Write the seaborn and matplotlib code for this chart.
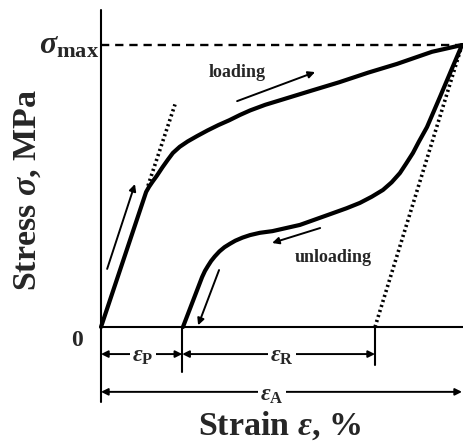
import numpy as np
import pandas as pd
import matplotlib
matplotlib.use("Agg")
import matplotlib.pyplot as plt
import seaborn as sns

# values (strain in arbitrary %, stress in % of sigma_max)
loading_strain = [0, 1.25, 1.33, 1.42, 1.55, 1.70, 1.85, 1.99, 2.18, 2.40, 2.66, 2.95,
                  3.25, 3.55, 3.85, 4.13, 4.55, 5.01, 5.80, 6.60, 7.40, 8.20, 9.17, 10.0]
loading_stress = [0, 47.9, 49.7, 51.4, 53.7, 56.6, 59.3, 61.7, 63.9, 65.8, 67.7, 69.7,
                  71.6, 73.3, 75.2, 76.8, 78.8, 80.6, 83.7, 86.8, 90.2, 93.3, 97.6, 100]

unloading_strain = [10.0, 9.70, 9.39, 9.03, 8.80, 8.64, 8.45, 8.28, 8.05, 7.81, 7.50,
                    7.17, 6.80, 6.43, 5.51, 4.75, 4.40, 4.13, 3.92, 3.72, 3.57, 3.42,
                    3.28, 3.15, 3.05, 2.96, 2.88, 2.80, 2.27]
unloading_stress = [100, 91.0, 81.6, 70.9, 65.6, 61.7, 57.9, 54.6, 51.3, 48.6, 46.2,
                    44.0, 42.1, 40.4, 36.2, 34.0, 33.4, 32.6, 31.7, 30.6, 29.5, 28.3,
                    26.8, 25.0, 23.4, 21.6, 19.9, 17.7, 0]

sigma_max = 100
eps_p = 2.25      # residual strain after unloading
eps_r = 7.59      # foot of the elastic unloading line
eps_a = 10.0      # total applied strain
elastic_slope = 38.5  # slope of the initial loading line

sns.set_style("white")
plt.rcParams["font.family"] = ["Liberation Serif", "DejaVu Serif"]
plt.rcParams["font.weight"] = "bold"
plt.rcParams["mathtext.fontset"] = "custom"
plt.rcParams["mathtext.rm"] = "Liberation Serif:weight=bold"
plt.rcParams["mathtext.bf"] = "Liberation Serif:weight=bold"
plt.rcParams["mathtext.it"] = "Liberation Serif:style=italic:weight=bold"

fig = plt.figure(figsize=(4.64, 4.44), dpi=100)
ax = fig.add_axes([0, 0, 1, 1])
ax.set_xlim(-2.798, 10.055)
ax.set_ylim(-41.49, 115.96)
ax.axis("off")

load_df = pd.DataFrame({"strain": loading_strain, "stress": loading_stress})
unload_df = pd.DataFrame({"strain": unloading_strain, "stress": unloading_stress})
sns.lineplot(data=load_df, x="strain", y="stress", sort=False, estimator=None,
             color="black", lw=3.0, ax=ax, solid_joinstyle="round", solid_capstyle="round")
sns.lineplot(data=unload_df, x="strain", y="stress", sort=False, estimator=None,
             color="black", lw=3.0, ax=ax, solid_joinstyle="round", solid_capstyle="round")

# dotted elastic lines
ax.plot([1.30, 2.05], [1.30 * elastic_slope, 2.05 * elastic_slope], color="black",
        lw=2.6, ls=(0, (0.6, 0.85)))
ax.plot([eps_r, eps_a], [0, sigma_max], color="black", lw=2.6, ls=(0, (0.6, 0.85)))

# sigma_max dashed line
ax.plot([0, 10.055], [sigma_max, sigma_max], color="black", lw=1.7, ls=(0, (3.5, 2.5)))

# axes
ax.plot([0, 0], [-26.6, 112.4], color="black", lw=1.5)
ax.plot([0, 10.055], [0, 0], color="black", lw=1.5)
ax.plot([eps_p, eps_p], [0, -16.0], color="black", lw=1.5)
ax.plot([eps_r, eps_r], [0, -13.5], color="black", lw=1.5)

arrow_kw = dict(arrowstyle="-|>", lw=1.4, color="black", mutation_scale=10,
                shrinkA=0, shrinkB=0)
dbl_kw = dict(arrowstyle="<|-|>", lw=1.4, color="black", mutation_scale=10,
              shrinkA=0, shrinkB=0)

# direction arrows
ax.annotate("", xy=(0.94, 50.7), xytext=(0.17, 20.6), arrowprops=arrow_kw)
ax.annotate("", xy=(5.93, 90.4), xytext=(3.77, 80.1), arrowprops=arrow_kw)
ax.annotate("", xy=(4.74, 29.8), xytext=(6.07, 35.1), arrowprops=arrow_kw)
ax.annotate("", xy=(2.69, 0.6), xytext=(3.27, 20.2), arrowprops=arrow_kw)

ax.text(3.77, 90.4, "loading", ha="center", va="center", fontsize=13, fontweight="bold")
ax.text(6.43, 24.8, "unloading", ha="center", va="center", fontsize=13, fontweight="bold")

# strain components
lab_box = dict(facecolor="white", edgecolor="none", pad=1.5)
ax.annotate("", xy=(eps_p, -9.6), xytext=(0, -9.6), arrowprops=dbl_kw)
ax.annotate("", xy=(eps_r, -9.6), xytext=(eps_p, -9.6), arrowprops=dbl_kw)
ax.annotate("", xy=(eps_a, -23.0), xytext=(0, -23.0), arrowprops=dbl_kw)
ax.text(1.16, -10.6, r"$\varepsilon_{\mathrm{P}}$", ha="center", va="center",
        fontsize=17, bbox=lab_box, zorder=5)
ax.text(5.01, -10.6, r"$\varepsilon_{\mathrm{R}}$", ha="center", va="center",
        fontsize=17, bbox=lab_box, zorder=5)
ax.text(4.74, -24.2, r"$\varepsilon_{\mathrm{A}}$", ha="center", va="center",
        fontsize=17, bbox=lab_box, zorder=5)

# labels
ax.text(-0.05, 99.5, r"$\sigma_{\mathrm{max}}$", ha="right", va="center", fontsize=23)
ax.text(-0.67, -4.8, "0", ha="center", va="center", fontsize=17, fontweight="bold")
ax.text(4.95, -35.0, r"Strain $\varepsilon$, %", ha="center", va="center",
        fontsize=24.5, fontweight="bold")
ax.text(-2.03, 48.5, r"Stress $\sigma$, MPa", ha="center", va="center",
        fontsize=24.5, fontweight="bold", rotation=90)

fig.savefig("out.png", dpi=100)
